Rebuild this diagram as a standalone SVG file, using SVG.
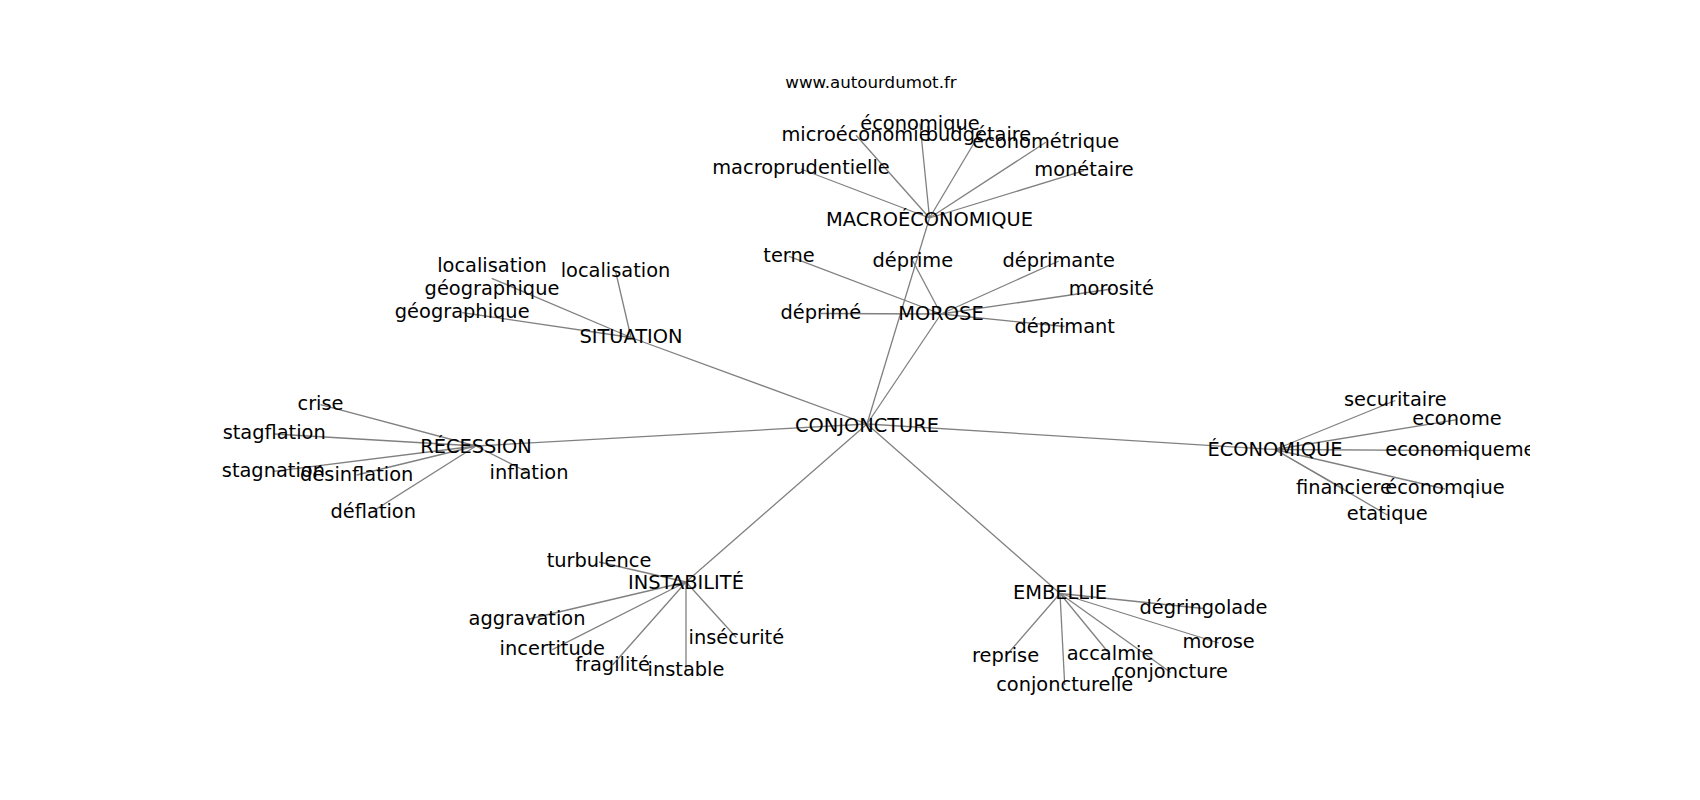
<svg xmlns="http://www.w3.org/2000/svg" width="1700" height="800" viewBox="0 0 1700 800">
<defs>
<clipPath id="ax"><rect x="212.5" y="96" width="1317.5" height="616"/></clipPath>
</defs>
<style>
.e{stroke:#808080;stroke-width:1.3;fill:none}
.l{font-family:"DejaVu Sans","Liberation Sans",sans-serif;font-size:19.4px;fill:#000;text-anchor:middle}
.t{font-family:"DejaVu Sans","Liberation Sans",sans-serif;font-size:16.67px;fill:#000;text-anchor:middle}
</style>
<rect width="1700" height="800" fill="#fff"/>
<text class="t" x="871" y="88">www.autourdumot.fr</text>
<g id="edges" class="e">
<line x1="867" y1="424" x2="929.5" y2="218"/>
<line x1="867" y1="424" x2="941" y2="314"/>
<line x1="867" y1="424" x2="631" y2="337.5"/>
<line x1="867" y1="424" x2="476" y2="446"/>
<line x1="867" y1="424" x2="1275" y2="449.5"/>
<line x1="867" y1="424" x2="686" y2="582"/>
<line x1="867" y1="424" x2="1060" y2="593.5"/>
<line x1="929.5" y1="218" x2="801" y2="169"/>
<line x1="929.5" y1="218" x2="856" y2="135.3"/>
<line x1="929.5" y1="218" x2="920" y2="123.5"/>
<line x1="929.5" y1="218" x2="978.5" y2="135.5"/>
<line x1="929.5" y1="218" x2="1045.8" y2="142.3"/>
<line x1="929.5" y1="218" x2="1084" y2="170.6"/>
<line x1="941" y1="314" x2="789" y2="256.3"/>
<line x1="941" y1="314" x2="912.8" y2="261"/>
<line x1="941" y1="314" x2="1058.8" y2="261"/>
<line x1="941" y1="314" x2="1111.3" y2="289"/>
<line x1="941" y1="314" x2="820.8" y2="313.5"/>
<line x1="941" y1="314" x2="1064.7" y2="326.5"/>
<line x1="631" y1="337.5" x2="491.7" y2="278.3"/>
<line x1="631" y1="337.5" x2="462.2" y2="312.6"/>
<line x1="631" y1="337.5" x2="615.5" y2="271"/>
<line x1="476" y1="446" x2="320.5" y2="404.6"/>
<line x1="476" y1="446" x2="274.2" y2="434"/>
<line x1="476" y1="446" x2="273.4" y2="471.3"/>
<line x1="476" y1="446" x2="356.7" y2="475"/>
<line x1="476" y1="446" x2="529" y2="473"/>
<line x1="476" y1="446" x2="373.3" y2="511"/>
<line x1="1275" y1="449.5" x2="1395.3" y2="400.5"/>
<line x1="1275" y1="449.5" x2="1457" y2="419.6"/>
<line x1="1275" y1="449.5" x2="1470.3" y2="450.6"/>
<line x1="1275" y1="449.5" x2="1344" y2="489"/>
<line x1="1275" y1="449.5" x2="1445" y2="489"/>
<line x1="1275" y1="449.5" x2="1387.3" y2="515"/>
<line x1="686" y1="582" x2="599" y2="562"/>
<line x1="686" y1="582" x2="527" y2="619.5"/>
<line x1="686" y1="582" x2="552.3" y2="649.6"/>
<line x1="686" y1="582" x2="612.5" y2="665"/>
<line x1="686" y1="582" x2="686" y2="670"/>
<line x1="686" y1="582" x2="736.3" y2="637.5"/>
<line x1="1060" y1="593.5" x2="1203.5" y2="608.5"/>
<line x1="1060" y1="593.5" x2="1218.7" y2="643"/>
<line x1="1060" y1="593.5" x2="1005.5" y2="656.3"/>
<line x1="1060" y1="593.5" x2="1110" y2="654.5"/>
<line x1="1060" y1="593.5" x2="1170.8" y2="672.5"/>
<line x1="1060" y1="593.5" x2="1064.7" y2="685"/>
</g>
<g clip-path="url(#ax)">
<g id="n-conjoncture"><text class="l" x="867" y="431.5">CONJONCTURE</text></g>
<g id="n-macroeconomique"><text class="l" x="929.5" y="225.5">MACROÉCONOMIQUE</text></g>
<g id="n-morose"><text class="l" x="941" y="320">MOROSE</text></g>
<g id="n-situation"><text class="l" x="631" y="343.4">SITUATION</text></g>
<g id="n-recession"><text class="l" x="476" y="453">RÉCESSION</text></g>
<g id="n-economique"><text class="l" x="1275" y="456">ÉCONOMIQUE</text></g>
<g id="n-instabilite"><text class="l" x="686" y="588.5">INSTABILITÉ</text></g>
<g id="n-embellie"><text class="l" x="1060" y="599.4">EMBELLIE</text></g>

<g id="n-macroprudentielle"><text class="l" x="801" y="174.4">macroprudentielle</text></g>
<g id="n-microeconomie"><text class="l" x="856" y="140.5">microéconomie</text></g>
<g id="n-economique2"><text class="l" x="920" y="129.5">économique</text></g>
<g id="n-budgetaire"><text class="l" x="978.5" y="141">budgétaire</text></g>
<g id="n-econometrique"><text class="l" x="1045.8" y="147.7">économétrique</text></g>
<g id="n-monetaire"><text class="l" x="1084" y="176">monétaire</text></g>

<g id="n-terne"><text class="l" x="789" y="261.7">terne</text></g>
<g id="n-deprime"><text class="l" x="912.8" y="266.7">déprime</text></g>
<g id="n-deprimante"><text class="l" x="1058.8" y="266.7">déprimante</text></g>
<g id="n-morosite"><text class="l" x="1111.3" y="295">morosité</text></g>
<g id="n-deprime2"><text class="l" x="820.8" y="319">déprimé</text></g>
<g id="n-deprimant"><text class="l" x="1064.7" y="332.7">déprimant</text></g>

<g id="n-localisation-geo"><text class="l" x="492" y="271.7">localisation</text><text class="l" x="492" y="295">géographique</text></g>
<g id="n-geographique"><text class="l" x="462.2" y="318.3">géographique</text></g>
<g id="n-localisation"><text class="l" x="615.5" y="277">localisation</text></g>

<g id="n-crise"><text class="l" x="320.5" y="410">crise</text></g>
<g id="n-stagflation"><text class="l" x="274.2" y="439.3">stagflation</text></g>
<g id="n-stagnation"><text class="l" x="273.4" y="476.7">stagnation</text></g>
<g id="n-desinflation"><text class="l" x="356.7" y="481">désinflation</text></g>
<g id="n-inflation"><text class="l" x="529" y="478.5">inflation</text></g>
<g id="n-deflation"><text class="l" x="373.3" y="517.5">déflation</text></g>

<g id="n-securitaire"><text class="l" x="1395.3" y="406">securitaire</text></g>
<g id="n-econome"><text class="l" x="1457" y="425">econome</text></g>
<g id="n-economiquement"><text class="l" x="1470.3" y="456">economiquement</text></g>
<g id="n-financiere"><text class="l" x="1344" y="494.3">financiere</text></g>
<g id="n-economqiue"><text class="l" x="1445" y="494.3">économqiue</text></g>
<g id="n-etatique"><text class="l" x="1387.3" y="520.3">etatique</text></g>

<g id="n-turbulence"><text class="l" x="599" y="567.3">turbulence</text></g>
<g id="n-aggravation"><text class="l" x="527" y="625">aggravation</text></g>
<g id="n-incertitude"><text class="l" x="552.3" y="655">incertitude</text></g>
<g id="n-fragilite"><text class="l" x="612.5" y="671">fragilité</text></g>
<g id="n-instable"><text class="l" x="686" y="676">instable</text></g>
<g id="n-insecurite"><text class="l" x="736.3" y="643.5">insécurité</text></g>

<g id="n-degringolade"><text class="l" x="1203.5" y="614.3">dégringolade</text></g>
<g id="n-morose2"><text class="l" x="1218.7" y="648.3">morose</text></g>
<g id="n-reprise"><text class="l" x="1005.5" y="661.7">reprise</text></g>
<g id="n-accalmie"><text class="l" x="1110" y="660">accalmie</text></g>
<g id="n-conjoncture2"><text class="l" x="1170.8" y="678">conjoncture</text></g>
<g id="n-conjoncturelle"><text class="l" x="1064.7" y="690.5">conjoncturelle</text></g>
</g>
</svg>
